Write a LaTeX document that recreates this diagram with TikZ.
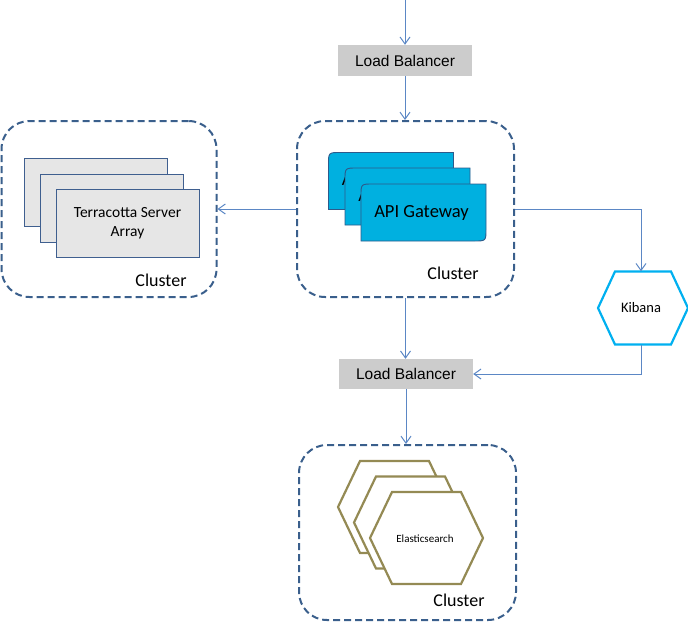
\documentclass[tikz,border=0pt]{standalone}
\usepackage{fontspec}
\setmainfont{Carlito}
\newfontfamily\arialf{Liberation Sans}
\usetikzlibrary{arrows.meta,calc}
\definecolor{dashblue}{HTML}{3A5F8C}
\definecolor{arrowblue}{HTML}{5B87C5}
\definecolor{lbgray}{HTML}{CCCCCC}
\definecolor{apifill}{HTML}{00B0E0}
\definecolor{apiedge}{HTML}{2E5A8A}
\definecolor{tcfill}{HTML}{E6E6E6}
\definecolor{tcedge}{HTML}{3F5F8F}
\definecolor{olivec}{HTML}{948A54}
\definecolor{kibblue}{HTML}{00B0F0}
% hexagon: style, cx, cy, half width, half height, inset
\newcommand\hexshape[6]{%
  \path[#1] (#2-#4,#3) -- (#2-#4+#6,#3-#5) -- (#2+#4-#6,#3-#5) -- (#2+#4,#3)
    -- (#2+#4-#6,#3+#5) -- (#2-#4+#6,#3+#5) -- cycle;}
% api box: cx, cy (w=125, h=57, r=12)
\newcommand\apishape[2]{%
  \path[apibox] (#1-62.5,#2+28.5) -- (#1-62.5,#2-16.5) .. controls (#1-62.5,#2-28.5) .. (#1-50.5,#2-28.5)
    -- (#1+62.5,#2-28.5) -- (#1+62.5,#2+16.5) .. controls (#1+62.5,#2+28.5) .. (#1+50.5,#2+28.5) -- cycle;}
\begin{document}
\begin{tikzpicture}[x=1pt,y=-1pt,
  cluster/.style={draw=dashblue, line width=2pt, dash pattern=on 7pt off 4pt,
    rounded corners=28pt, inner sep=0pt},
  clusterlabel/.style={font=\fontsize{18}{21}\selectfont, inner sep=0pt},
  lb/.style={fill=lbgray, minimum width=134pt, minimum height=31pt, inner sep=0pt,
    font=\arialf\fontsize{15.5}{18}\selectfont},
  conn/.style={draw=arrowblue, line width=1pt, -{Straight Barb[length=7pt,width=10pt]}},
  apibox/.style={fill=apifill, draw=apiedge, line width=0.9pt},
  apitext/.style={font=\fontsize{18.5}{22}\selectfont, inner sep=0pt},
  tcbox/.style={fill=tcfill, draw=tcedge, line width=1pt, minimum width=143pt,
    minimum height=68pt, inner sep=0pt},
  eshex/.style={fill=white, draw=olivec, line width=2.2pt, line join=miter},
  kibhex/.style={fill=white, draw=kibblue, line width=2.2pt},
]
\useasboundingbox (0,0) rectangle (688,622);

% clusters
\node[cluster, minimum width=215pt, minimum height=176pt] (cleft) at (109,209) {};
\node[cluster, minimum width=217pt, minimum height=176pt] (cmid) at (405.5,209) {};
\node[cluster, minimum width=217pt, minimum height=175pt] (cbot) at (407.5,532.5) {};
\node[clusterlabel] (lblleft) at (161,280) {Cluster};
\node[clusterlabel] (lblmid) at (453,273) {Cluster};
\node[clusterlabel] (lblbot) at (459,600) {Cluster};

% load balancers
\node[lb] (lb1) at (405,60.5) {Load Balancer};
\node[lb, minimum height=30pt] (lb2) at (406,374) {Load Balancer};

% terracotta
\node[tcbox] (tc1) at (95.5,192) {};
\node[tcbox] (tc2) at (111.5,208) {};
\node[tcbox, align=center, font=\fontsize{15.5}{19}\selectfont] (tc3) at (127.5,223.5)
  {Terracotta Server\\Array};

% api gateways
\apishape{391}{181}
\node[apitext] (api1) at (389,181) {API Gateway};
\apishape{407.5}{196.5}
\node[apitext] (api2) at (405.5,196.5) {API Gateway};
\apishape{423.5}{212.5}
\node[apitext] (api3) at (421.5,212.5) {API Gateway};

% kibana
\hexshape{kibhex}{643}{308}{45}{36.5}{17}
\node[font=\fontsize{14.5}{17}\selectfont, inner sep=0pt, minimum width=90pt,
  minimum height=73pt] (kib) at (641,308) {Kibana};

% elasticsearch
\hexshape{eshex}{394.5}{507}{56.5}{46}{22}
\hexshape{eshex}{410.5}{522.5}{56.5}{46}{22}
\hexshape{eshex}{426.5}{538}{56.5}{46}{22}
\node[font=\fontsize{11}{13}\selectfont, inner sep=0pt] (es) at (425,539) {Elasticsearch};

% connectors
\coordinate (entry) at (405,0);
\draw[conn] (entry) -- (lb1.north);
\draw[conn] (lb1.south) -- (lb1.south |- cmid.north);
\draw[conn] (cmid.west) -- (cleft.east);
\draw[conn] (cmid.east) -| (kib.north);
\draw[conn] (kib.south) |- (lb2.east);
\draw[conn] (cmid.south) -- (cmid.south |- lb2.north);
\draw[conn] (lb2.south) -- (lb2.south |- cbot.north);
\end{tikzpicture}
\end{document}
